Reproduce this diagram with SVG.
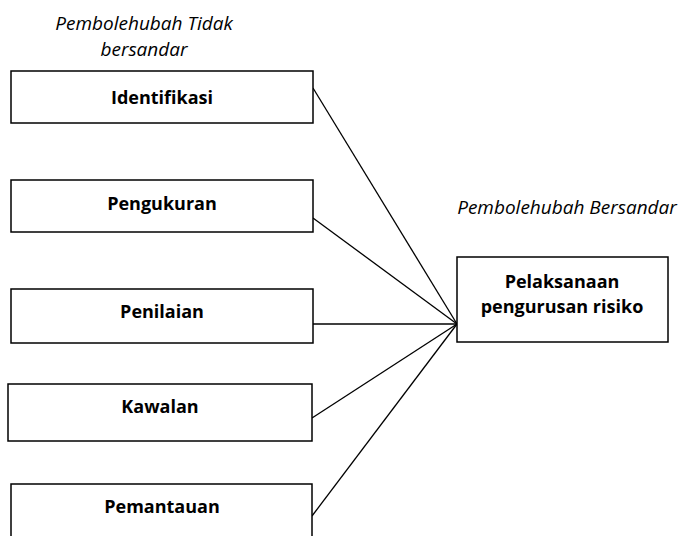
<svg xmlns="http://www.w3.org/2000/svg" width="682" height="536" viewBox="0 0 682 536">
<style>
.box{fill:#fff;stroke:#000;stroke-width:1.5}
.lbl{font-family:"Open Sans","Liberation Sans",sans-serif;font-weight:bold;font-size:18px;fill:#000;text-anchor:middle}
.it{font-family:"Open Sans","Liberation Sans",sans-serif;font-style:italic;font-size:19px;fill:#000;text-anchor:middle}
.ln{stroke:#000;stroke-width:1.3;fill:none}
</style>
<rect width="682" height="536" fill="#fff"/>
<text class="it" x="144" y="30">Pembolehubah Tidak</text>
<text class="it" x="144" y="56">bersandar</text>
<text class="it" x="567" y="214">Pembolehubah Bersandar</text>
<g id="connectors">
<line class="ln" x1="313" y1="88" x2="457" y2="324"/>
<line class="ln" x1="313" y1="218" x2="457" y2="324"/>
<line class="ln" x1="313" y1="324" x2="457" y2="324"/>
<line class="ln" x1="312" y1="418" x2="457" y2="324"/>
<line class="ln" x1="312" y1="516" x2="457" y2="324"/>
</g>
<g id="identifikasi"><rect class="box" x="11" y="71" width="302" height="52"/><text class="lbl" x="162" y="104">Identifikasi</text></g>
<g id="pengukuran"><rect class="box" x="11" y="180" width="302" height="52"/><text class="lbl" x="162" y="210">Pengukuran</text></g>
<g id="penilaian"><rect class="box" x="11" y="289" width="302" height="54"/><text class="lbl" x="162" y="318">Penilaian</text></g>
<g id="kawalan"><rect class="box" x="8" y="384" width="304" height="57"/><text class="lbl" x="160" y="413">Kawalan</text></g>
<g id="pemantauan"><rect class="box" x="11" y="484" width="301" height="60"/><text class="lbl" x="162" y="513">Pemantauan</text></g>
<g id="pelaksanaan"><rect class="box" x="457" y="257" width="211" height="85"/><text class="lbl" x="562" y="288">Pelaksanaan</text><text class="lbl" x="562" y="313">pengurusan risiko</text></g>
</svg>
